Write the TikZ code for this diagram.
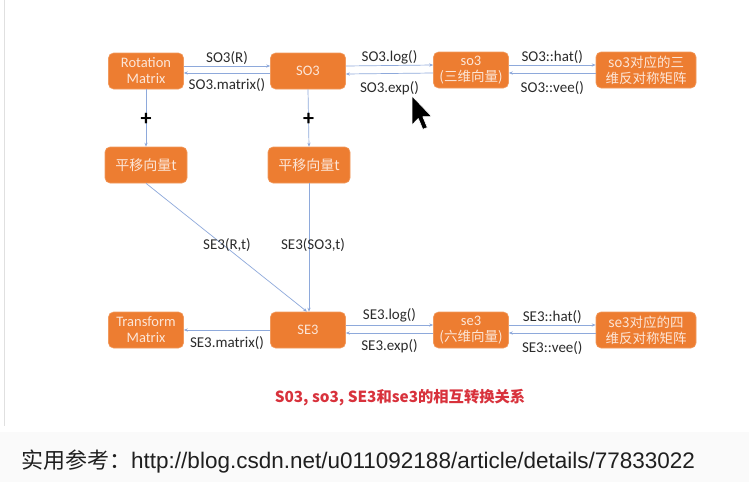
\documentclass[tikz,border=0pt]{standalone}
\usepackage{fontspec}
\setmainfont{Carlito}
\newfontfamily\cjk{Noto Sans CJK SC}
\newfontfamily\linkfont{Liberation Sans}
\usetikzlibrary{arrows.meta}
\definecolor{boxfill}{HTML}{ED7D31}
\definecolor{boxedge}{HTML}{F19A5E}
\definecolor{boxtext}{HTML}{FCE6D8}
\definecolor{linec}{HTML}{8EA9DB}
\definecolor{labc}{HTML}{2B2B2B}
\definecolor{titlec}{HTML}{D8323C}
\tikzset{
  obox/.style={rounded corners=5pt, fill=boxfill, draw=boxedge, line width=0.6pt,
    text=boxtext, align=center, minimum height=36pt, inner sep=1pt,
    font=\fontsize{14.5}{16}\selectfont},
  cjkbox/.style={font=\cjk\fontsize{13.5}{16}\selectfont},
  conn/.style={draw=linec, line width=0.7pt, -{Stealth[length=4pt,width=3.2pt]}},
  lab/.style={text=labc, font=\fontsize{15}{16}\selectfont, inner sep=0.5pt},
  plus/.style={text=black, font=\fontsize{22}{22}\selectfont\bfseries, inner sep=0pt}
}
\begin{document}
\begin{tikzpicture}[x=1pt,y=-1pt]
\useasboundingbox (0,0) rectangle (749,482);
\fill[white] (0,0) rectangle (749,482);
\fill[black!2] (0,432) rectangle (749,482);
\draw[black!12, line width=0.8pt] (4,0) -- (4,426);

% top row
\node[obox, minimum width=75pt] (rm) at (146,71) {Rotation\\Matrix};
\node[obox, minimum width=75pt] (SOg) at (308,71) {SO3};
\node[obox, minimum width=75pt] (soa) at (471,70) {so3\\{\cjk\fontsize{13.5}{16}\selectfont (三维向量)}};
\node[obox, minimum width=100pt, cjkbox] (sohat) at (646,70) {so3对应的三\\维反对称矩阵};

% translation boxes
\node[obox, minimum width=82pt, font=\cjk\fontsize{14}{16}\selectfont] (tl) at (146,165) {平移向量t};
\node[obox, minimum width=82pt, font=\cjk\fontsize{14}{16}\selectfont] (tr) at (309,165) {平移向量t};

% bottom row
\node[obox, minimum width=75pt] (tm) at (146,330) {Transform\\Matrix};
\node[obox, minimum width=75pt] (SEg) at (308,330) {SE3};
\node[obox, minimum width=75pt] (sea) at (471,330) {se3\\{\cjk\fontsize{13.5}{16}\selectfont (六维向量)}};
\node[obox, minimum width=100pt, cjkbox] (sehat) at (646,330) {se3对应的四\\维反对称矩阵};

% top row connectors
\draw[conn] ([yshift=5pt]rm.east) -- node[lab, above=1pt] (l1) {SO3(R)} ([yshift=5pt]SOg.west);
\draw[conn] ([yshift=-2pt]SOg.west) -- node[lab, below=4.5pt] (l2) {SO3.matrix()} ([yshift=-2pt]rm.east);
\draw[conn] ([yshift=5pt]SOg.east) -- node[lab, above=1pt] (l3) {SO3.log()} ([yshift=5pt]soa.west);
\draw[conn] ([yshift=-3pt]soa.west) -- node[lab, below=7pt] (l4) {SO3.exp()} ([yshift=-3pt]SOg.east);
\draw[conn] ([yshift=5pt]soa.east) -- node[lab, above=1pt] (l5) {SO3::hat()} ([yshift=5pt]sohat.west);
\draw[conn] ([yshift=-3pt]sohat.west) -- node[lab, below=8pt] (l6) {SO3::vee()} ([yshift=-3pt]soa.east);

% vertical connectors
\draw[conn] (rm.south) -- node[plus, pos=0.53] (p1) {+} (tl.north);
\draw[conn] (SOg.south) -- node[plus, pos=0.53] (p2) {+} (tr.north);
\coordinate (seTop) at ([xshift=-1pt]SEg.north);
\draw[conn] (tl.south) -- (seTop);
\draw[conn] (tr.south) -- (SEg.north -| tr.south);
\node[lab] (l7) at (227,245) {SE3(R,t)};
\node[lab] (l8) at (313,245) {SE3(SO3,t)};

% bottom row connectors
\draw[conn] (SEg.west) -- node[lab, below=6pt] (l9) {SE3.matrix()} (tm.east);
\draw[conn] ([yshift=5pt]SEg.east) -- node[lab, above=2pt] (l10) {SE3.log()} ([yshift=5pt]sea.west);
\draw[conn] ([yshift=-3pt]sea.west) -- node[lab, below=6pt] (l11) {SE3.exp()} ([yshift=-3pt]SEg.east);
\draw[conn] ([yshift=5pt]sea.east) -- node[lab, above=1pt] (l12) {SE3::hat()} ([yshift=5pt]sehat.west);
\draw[conn] ([yshift=-3pt]sehat.west) -- node[lab, below=8pt] (l13) {SE3::vee()} ([yshift=-3pt]sea.east);

% title
\node[text=titlec, font=\cjk\bfseries\fontsize{15.3}{17}\selectfont] (title) at (400,398) {S03, so3, SE3和se3的相互转换关系};

% reference line
\node[anchor=west, text=black!88, inner sep=0pt] (ref) at (21,462)
  {{\cjk\fontsize{22}{24}\selectfont 实用参考：}{\linkfont\fontsize{22.5}{24}\selectfont http://blog.csdn.net/u011092188/article/details/77833022}};

% mouse cursor
\filldraw[fill=black, draw=white, line width=0.6pt, line join=round]
  (412,96) -- ++(0,29) -- ++(6.3,-6.5) -- ++(4.5,10.8) -- ++(4.5,-1.8) -- ++(-4.5,-10.8) -- ++(9,0) -- cycle;
\end{tikzpicture}
\end{document}
